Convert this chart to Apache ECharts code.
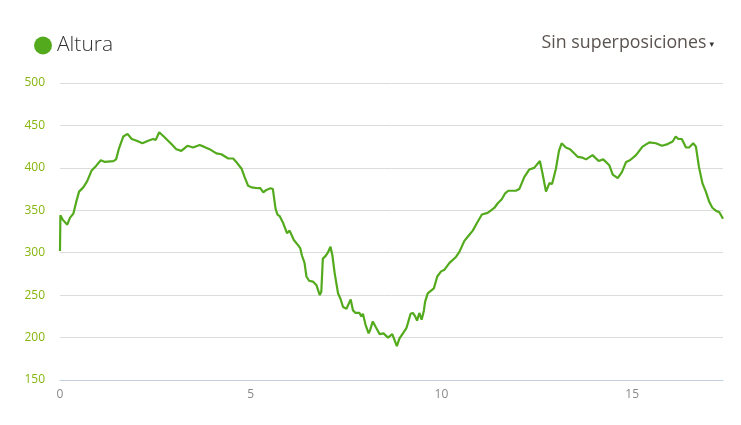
<!DOCTYPE html>
<html>
<head>
<meta charset="utf-8">
<script src="https://cdn.jsdelivr.net/npm/echarts@6/dist/echarts.min.js"></script>
<style>html,body{margin:0;padding:0;background:#fff}#c{width:741px;height:425px}</style>
</head>
<body>
<div id="c"></div>
<script>
const distanceKm = [0.00,0.01,0.07,0.12,0.19,0.26,0.35,0.42,0.50,0.61,0.71,0.83,0.94,1.07,1.18,1.40,1.47,1.54,1.66,1.77,1.88,2.01,2.16,2.31,2.44,2.51,2.60,2.72,2.92,3.05,3.18,3.34,3.49,3.66,3.77,3.92,4.10,4.23,4.41,4.54,4.62,4.76,4.84,4.93,5.02,5.19,5.25,5.33,5.41,5.52,5.58,5.65,5.70,5.76,5.85,5.95,6.02,6.13,6.24,6.30,6.34,6.41,6.46,6.53,6.63,6.72,6.81,6.85,6.89,6.96,7.02,7.09,7.14,7.20,7.29,7.35,7.42,7.51,7.55,7.62,7.68,7.75,7.85,7.90,7.94,8.01,8.09,8.13,8.20,8.27,8.32,8.38,8.48,8.60,8.71,8.77,8.83,8.90,8.99,9.08,9.12,9.19,9.25,9.31,9.36,9.42,9.48,9.54,9.57,9.64,9.80,9.89,9.99,10.08,10.21,10.38,10.47,10.60,10.71,10.82,10.93,11.06,11.21,11.30,11.39,11.47,11.58,11.67,11.75,11.87,11.95,12.04,12.17,12.30,12.43,12.58,12.65,12.74,12.83,12.90,13.00,13.08,13.15,13.26,13.37,13.57,13.70,13.79,13.96,14.12,14.24,14.40,14.49,14.62,14.73,14.84,14.94,15.10,15.27,15.45,15.62,15.78,15.93,16.06,16.14,16.21,16.30,16.41,16.49,16.60,16.67,16.75,16.84,16.93,17.02,17.10,17.21,17.28,17.38];
const altitudeM = [302,344,339,338,333,341,346,359,372,377,384,397,402,409,407,408,410,422,437,440,434,432,429,432,434,433,442,437,428,422,420,426,424,427,425,422,417,416,411,411,407,399,389,379,377,376,376,371,374,376,375,352,345,343,335,323,326,315,309,305,297,288,272,267,266,262,250,254,293,296,300,307,297,276,252,246,236,234,232,245,232,229,229,225,228,215,205,209,219,213,213,204,205,200,204,197,190,199,205,211,217,228,229,225,220,229,221,232,242,252,258,272,278,280,288,295,301,314,320,326,335,345,347,350,353,358,363,370,373,373,373,375,389,398,400,408,393,372,382,381,399,420,429,424,422,413,412,410,415,408,410,403,392,388,395,407,409,415,425,430,429,426,428,431,437,434,434,424,424,429,425,401,382,372,360,353,349,348,340];
const xTicks = [0, 5, 10, 15];
const yTicks = [150, 200, 250, 300, 350, 400, 450, 500];
const seriesName = 'Altura';
const overlayLabel = 'Sin superposiciones';
const overlayCaret = '\u25BE';

const chart = echarts.init(document.getElementById('c'), null, {renderer: 'canvas'});
const FONT = '"Open Sans", "Noto Sans", sans-serif';
chart.setOption({
  animation: false,
  backgroundColor: '#fff',
  title: {
    text: '{a|' + overlayLabel + '}{b|' + overlayCaret + '}',
    right: 22, top: 29,
    textStyle: {
      fontWeight: 'normal',
      rich: {
        a: {fontFamily: FONT, fontSize: 17.8, fontWeight: 'normal', color: '#5a5350', padding: [0, 3, 0, 0]},
        b: {fontFamily: 'DejaVu Sans', fontSize: 9, fontWeight: 'normal', color: '#333', padding: [3, 0, 0, 0]}
      }
    }
  },
  legend: {
    left: 29, top: 30,
    icon: 'circle', itemWidth: 18, itemHeight: 18, itemGap: 6,
    textStyle: {fontFamily: FONT, fontSize: 21, fontWeight: 300, color: '#333'},
    data: [seriesName]
  },
  grid: {left: 60, right: 18, top: 83, bottom: 45, containLabel: false},
  xAxis: {
    type: 'value', min: 0, max: 17.38, interval: 5,
    axisLine: {show: true, lineStyle: {color: '#c3cfdf', width: 1}},
    axisTick: {show: false},
    splitLine: {show: false},
    axisLabel: {showMaxLabel: false, margin: 9, color: '#888', fontFamily: FONT, fontSize: 12,
      formatter: v => xTicks.includes(v) ? String(v) : ''}
  },
  yAxis: {
    type: 'value', min: yTicks[0], max: yTicks[yTicks.length - 1], interval: 50,
    axisLine: {show: false}, axisTick: {show: false},
    splitLine: {lineStyle: {color: '#dcdcdc', width: 1}},
    axisLabel: {margin: 15, color: '#88b510', fontFamily: FONT, fontSize: 12}
  },
  series: [{
    name: seriesName, type: 'line', showSymbol: false, symbol: 'none',
    itemStyle: {color: '#53aa1c'},
    lineStyle: {color: '#53aa1c', width: 2.2},
    data: distanceKm.map((d, i) => [d, altitudeM[i]])
  }]
});
</script>
</body>
</html>
